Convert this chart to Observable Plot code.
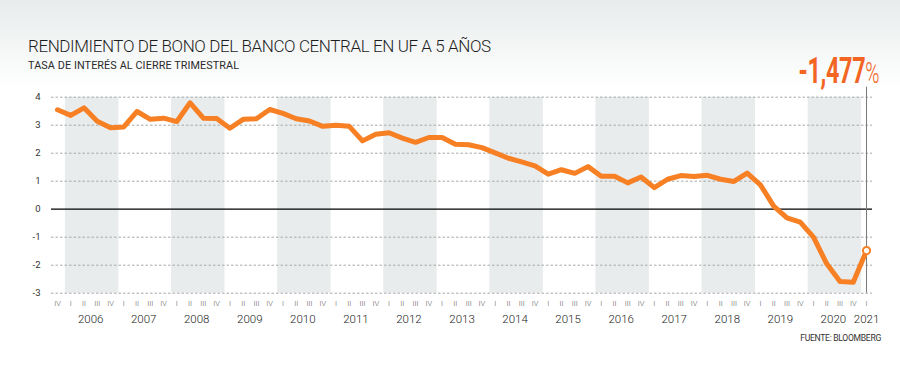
<!DOCTYPE html>
<html>
<head>
<meta charset="utf-8">
<script src="https://cdn.jsdelivr.net/npm/d3@7"></script>
<script src="https://cdn.jsdelivr.net/npm/@observablehq/plot@0.6"></script>
<style>
  html, body { margin: 0; padding: 0; }
  body {
    width: 900px; height: 372px; position: relative; overflow: hidden;
    background: linear-gradient(to bottom, #e8ecec 0px, #ffffff 88px, #ffffff 100%);
    font-family: Roboto, "Noto Sans", sans-serif;
  }
  #head { position: relative; height: 84px; }
  #title { position: absolute; left: 28px; top: 37.7px; font-size: 17px; line-height: 17px; font-weight: 300; color: #1e1e1e; letter-spacing: -0.4px; white-space: nowrap; }
  #subtitle { position: absolute; left: 28px; top: 60.5px; font-size: 10.8px; line-height: 10.8px; color: #2a2a2a; letter-spacing: 0.1px; white-space: nowrap; }
  #big { position: absolute; right: 20px; top: 52.5px; line-height: 36.6px; white-space: nowrap; color: #f26522; transform: scaleX(0.64); transform-origin: right center; }
  #big .num { font-size: 36.6px; font-weight: 700; letter-spacing: -0.5px; }
  #big .pct { font-size: 30px; font-weight: 300; }
  #source { position: absolute; right: 19px; top: 334px; font-size: 8.6px; line-height: 8.6px; color: #333; letter-spacing: -0.3px; white-space: nowrap; }
  #chart svg { display: block; }
</style>
</head>
<body>
<div id="head">
  <div id="title">RENDIMIENTO DE BONO DEL BANCO CENTRAL EN UF A 5 AÑOS</div>
  <div id="subtitle">TASA DE INTERÉS AL CIERRE TRIMESTRAL</div>
  <div id="big"><span class="num"></span><span class="pct">%</span></div>
</div>
<div id="chart"></div>
<div id="source">FUENTE: BLOOMBERG</div>
<script>
// ---- data ----
const firstPeriod = "2005-IV";
const years = [2006, 2007, 2008, 2009, 2010, 2011, 2012, 2013, 2014, 2015, 2016, 2017, 2018, 2019, 2020, 2021];
const quarterNames = ["I", "II", "III", "IV"];
const lastYearQuarters = ["I"];
const shadedYears = [2006, 2008, 2010, 2012, 2014, 2016, 2018, 2020];
const values = [
  3.55, 3.35, 3.62, 3.14, 2.91,
  2.94, 3.49, 3.21, 3.25, 3.13,
  3.80, 3.25, 3.24, 2.89, 3.21,
  3.23, 3.56, 3.42, 3.23, 3.15,
  2.96, 3.00, 2.96, 2.44, 2.68,
  2.73, 2.54, 2.39, 2.56, 2.56,
  2.32, 2.30, 2.20, 2.01, 1.82,
  1.69, 1.55, 1.25, 1.41, 1.28,
  1.52, 1.18, 1.18, 0.94, 1.15,
  0.77, 1.07, 1.20, 1.17, 1.21,
  1.07, 0.99, 1.29, 0.87, 0.11,
  -0.31, -0.46, -1.00, -1.95, -2.58,
  -2.61, -1.477
];
const yTicks = [4, 3, 2, 1, 0, -1, -2, -3];

// ---- build table ----
const lastYear = years[years.length - 1];
const periodLabels = [firstPeriod, ...years.flatMap(y => (y === lastYear ? lastYearQuarters : quarterNames).map(q => `${y}-${q}`))];
const data = periodLabels.map((p, i) => ({ i, period: p, q: p.split("-")[1], v: values[i] }));
const idxOf = (y, q) => periodLabels.indexOf(`${y}-${q}`);
const yearLabels = years.map(y => {
  const qs = y === lastYear ? lastYearQuarters : quarterNames;
  const a = idxOf(y, qs[0]), b = idxOf(y, qs[qs.length - 1]);
  return { year: String(y), x: (a + b) / 2 };
});
const bands = shadedYears.map(y => ({ x1: idxOf(y, "I") - 0.4, x2: idxOf(y, "IV") + 0.63 }));
const last = data[data.length - 1];

document.querySelector("#big .num").textContent = d3.format(".3f")(last.v).replace("−", "-").replace(".", ",");

const orange = "#f77f24";
const chart = Plot.plot({
  width: 900,
  height: 248,
  marginLeft: 51,
  marginRight: 28,
  marginTop: 12.7,
  marginBottom: 39.3,
  x: { type: "linear", domain: [-0.45, data.length - 1 + 0.45], axis: null },
  y: { domain: [-3, 4], axis: null },
  style: { fontFamily: "Roboto, 'Noto Sans', sans-serif", background: "transparent", overflow: "visible" },
  marks: [
    Plot.rect(bands, { x1: "x1", x2: "x2", y1: -3, y2: 4, fill: "#e9ecec" }),
    Plot.gridY(yTicks.filter(t => t !== 0), { stroke: "#a8a8a8", strokeOpacity: 1, strokeDasharray: "2.5,2" }),
    Plot.ruleY([0], { stroke: "#000", strokeWidth: 1.3 }),
    Plot.axisY(yTicks, { tickSize: 0, tickPadding: 11, fontSize: 9.5, fill: "#333", label: null, tickFormat: d => String(d) }),
    Plot.ruleX([last], { x: "i", stroke: "#777", strokeWidth: 1, insetTop: -10 }),
    Plot.line(data, { x: "i", y: "v", stroke: orange, strokeWidth: 5, strokeLinejoin: "round", strokeLinecap: "round" }),
    Plot.dot([last], { x: "i", y: "v", r: 3.6, fill: "#fff", stroke: orange, strokeWidth: 2 }),
    Plot.text(data, { x: "i", frameAnchor: "bottom", dy: 12.3, text: "q", fontSize: 7.5, fill: "#555", fontWeight: 300 }),
    Plot.text(yearLabels, { x: "x", frameAnchor: "bottom", dy: 29.8, text: "year", fontSize: 11.5, fill: "#222", fontWeight: 300 })
  ]
});
document.getElementById("chart").appendChild(chart);
</script>
</body>
</html>
